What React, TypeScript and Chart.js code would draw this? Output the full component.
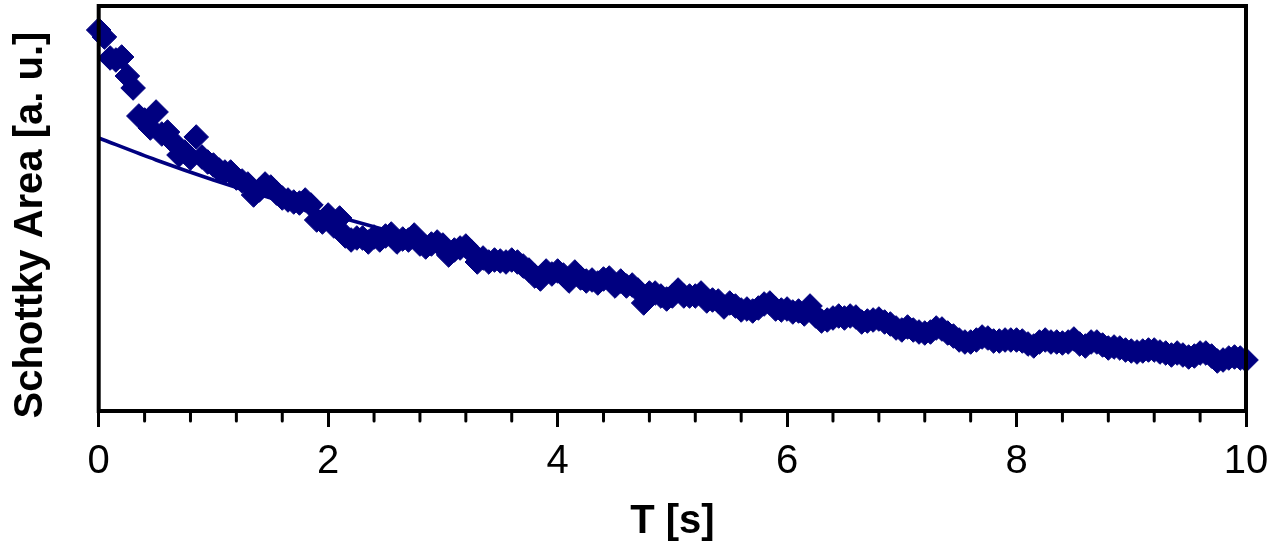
import React, { useEffect, useRef } from 'react';
import { Chart, registerables } from 'chart.js';

Chart.register(...registerables);

// Measurement times [s]
const TIME_S = [
  0, 0.05, 0.1, 0.15, 0.2, 0.25, 0.3, 0.35, 0.4, 0.45, 0.5, 0.55, 0.6, 0.65, 0.7, 0.75, 0.8, 0.85, 0.9, 0.95,
  1, 1.05, 1.1, 1.15, 1.2, 1.25, 1.3, 1.35, 1.4, 1.45, 1.5, 1.55, 1.6, 1.65, 1.7, 1.75, 1.8, 1.85, 1.9, 1.95,
  2, 2.05, 2.1, 2.15, 2.2, 2.25, 2.3, 2.35, 2.4, 2.45, 2.5, 2.55, 2.6, 2.65, 2.7, 2.75, 2.8, 2.85, 2.9, 2.95,
  3, 3.05, 3.1, 3.15, 3.2, 3.25, 3.3, 3.35, 3.4, 3.45, 3.5, 3.55, 3.6, 3.65, 3.7, 3.75, 3.8, 3.85, 3.9, 3.95,
  4, 4.05, 4.1, 4.15, 4.2, 4.25, 4.3, 4.35, 4.4, 4.45, 4.5, 4.55, 4.6, 4.65, 4.7, 4.75, 4.8, 4.85, 4.9, 4.95,
  5, 5.05, 5.1, 5.15, 5.2, 5.25, 5.3, 5.35, 5.4, 5.45, 5.5, 5.55, 5.6, 5.65, 5.7, 5.75, 5.8, 5.85, 5.9, 5.95,
  6, 6.05, 6.1, 6.15, 6.2, 6.25, 6.3, 6.35, 6.4, 6.45, 6.5, 6.55, 6.6, 6.65, 6.7, 6.75, 6.8, 6.85, 6.9, 6.95,
  7, 7.05, 7.1, 7.15, 7.2, 7.25, 7.3, 7.35, 7.4, 7.45, 7.5, 7.55, 7.6, 7.65, 7.7, 7.75, 7.8, 7.85, 7.9, 7.95,
  8, 8.05, 8.1, 8.15, 8.2, 8.25, 8.3, 8.35, 8.4, 8.45, 8.5, 8.55, 8.6, 8.65, 8.7, 8.75, 8.8, 8.85, 8.9, 8.95,
  9, 9.05, 9.1, 9.15, 9.2, 9.25, 9.3, 9.35, 9.4, 9.45, 9.5, 9.55, 9.6, 9.65, 9.7, 9.75, 9.8, 9.85, 9.9, 9.95,
  10,
];

// Measured Schottky area [a. u.]
const AREA = [
  3.81, 3.74, 3.53, 3.51, 3.54, 3.35, 3.23, 2.95, 2.91, 2.83, 2.99, 2.77, 2.79, 2.69, 2.56, 2.59, 2.53, 2.74, 2.54, 2.49,
  2.46, 2.41, 2.39, 2.39, 2.33, 2.30, 2.27, 2.16, 2.21, 2.27, 2.24, 2.18, 2.13, 2.11, 2.09, 2.08, 2.11, 2.06, 1.91, 1.89,
  1.96, 1.85, 1.93, 1.75, 1.71, 1.73, 1.73, 1.69, 1.74, 1.71, 1.75, 1.77, 1.69, 1.72, 1.71, 1.76, 1.67, 1.64, 1.67, 1.69,
  1.66, 1.56, 1.61, 1.63, 1.65, 1.59, 1.49, 1.53, 1.49, 1.51, 1.50, 1.49, 1.51, 1.49, 1.45, 1.41, 1.35, 1.32, 1.40, 1.37,
  1.40, 1.36, 1.30, 1.39, 1.33, 1.30, 1.31, 1.28, 1.32, 1.33, 1.25, 1.30, 1.25, 1.26, 1.21, 1.08, 1.18, 1.18, 1.15, 1.12,
  1.15, 1.21, 1.15, 1.15, 1.15, 1.18, 1.10, 1.11, 1.10, 1.04, 1.08, 1.05, 1.01, 1.02, 1.00, 1.03, 1.07, 1.08, 1.02, 1.01,
  1.02, 0.99, 1.00, 0.97, 1.05, 0.95, 0.90, 0.91, 0.93, 0.95, 0.93, 0.95, 0.94, 0.89, 0.90, 0.91, 0.92, 0.89, 0.87, 0.83,
  0.81, 0.84, 0.81, 0.79, 0.78, 0.79, 0.83, 0.82, 0.78, 0.75, 0.71, 0.69, 0.69, 0.71, 0.74, 0.73, 0.70, 0.70, 0.71, 0.71,
  0.71, 0.70, 0.67, 0.65, 0.69, 0.71, 0.69, 0.69, 0.68, 0.69, 0.72, 0.67, 0.65, 0.69, 0.69, 0.66, 0.63, 0.64, 0.63, 0.61,
  0.60, 0.59, 0.60, 0.61, 0.61, 0.59, 0.58, 0.56, 0.58, 0.56, 0.54, 0.55, 0.58, 0.58, 0.55, 0.50, 0.51, 0.53, 0.54, 0.53,
  0.51,
];

// Fit curve
const FIT_T = [0, 0.5, 1, 1.5, 2, 2.5, 3, 3.5, 4, 4.5, 5, 5.5, 6, 6.5, 7, 7.5, 8, 8.5, 9, 9.5, 10, 10.08];
const FIT_AREA = [2.73, 2.51, 2.31, 2.13, 1.97, 1.81, 1.65, 1.51, 1.39, 1.27, 1.17, 1.08, 0.99, 0.91, 0.83, 0.77, 0.70, 0.65, 0.59, 0.55, 0.50, 0.50];

const MAJOR_TICKS = [0, 2, 4, 6, 8, 10];
const MINOR_TICKS = [0.4, 0.8, 1.2, 1.6, 2.4, 2.8, 3.2, 3.6, 4.4, 4.8, 5.2, 5.6, 6.4, 6.8, 7.2, 7.6, 8.4, 8.8, 9.2, 9.6];

const X_TITLE = 'T [s]';
const Y_TITLE = 'Schottky Area [a. u.]';

const NAVY = '#000080';
const FONT = '"Liberation Sans", Arial, Helvetica, sans-serif';

const frameAndMinorTicks = {
  id: 'frameAndMinorTicks',
  afterDatasetsDraw(chart: any) {
    const { ctx, chartArea: a, scales } = chart;
    const xs = scales.x;
    ctx.save();
    ctx.strokeStyle = '#000';
    ctx.lineWidth = 3;
    ctx.lineCap = 'round';
    for (const v of MINOR_TICKS) {
      const px = xs.getPixelForValue(v);
      ctx.beginPath();
      ctx.moveTo(px, a.bottom);
      ctx.lineTo(px, a.bottom + 10);
      ctx.stroke();
    }
    ctx.lineCap = 'butt';
    ctx.lineWidth = 4;
    ctx.strokeRect(a.left, a.top, a.right - a.left, a.bottom - a.top);

    // y-axis title, rotated
    ctx.translate(31, 225);
    ctx.rotate(-Math.PI / 2);
    ctx.fillStyle = '#000';
    ctx.font = `bold 40px ${FONT}`;
    ctx.textAlign = 'center';
    ctx.textBaseline = 'middle';
    ctx.fillText(Y_TITLE, 0, 0);
    ctx.restore();
  },
};

export default function App() {
  const canvasRef = useRef<HTMLCanvasElement | null>(null);

  useEffect(() => {
    const canvas = canvasRef.current;
    if (!canvas) return;
    const chart = new Chart(canvas, {
      type: 'scatter',
      data: {
        datasets: [
          {
            type: 'line',
            label: 'fit',
            data: FIT_T.map((t, i) => ({ x: t, y: FIT_AREA[i] })),
            borderColor: NAVY,
            borderWidth: 3.5,
            pointRadius: 0,
            fill: false,
            tension: 0.3,
            showLine: true,
            clip: false,
            order: 1,
          } as any,
          {
            label: 'data',
            data: TIME_S.map((t, i) => ({ x: t, y: AREA[i] })),
            pointStyle: 'rectRot',
            pointRadius: 12.3,
            pointBackgroundColor: NAVY,
            pointBorderColor: NAVY,
            pointBorderWidth: 1,
            showLine: false,
            clip: false,
            order: 2,
          } as any,
        ],
      },
      options: {
        responsive: false,
        animation: false,
        events: [],
        layout: { autoPadding: false, padding: { top: 6, right: 39, left: 0, bottom: 0 } },
        plugins: {
          legend: { display: false },
          tooltip: { enabled: false },
        },
        scales: {
          x: {
            type: 'linear',
            position: 'bottom',
            min: 0,
            max: 10,
            afterBuildTicks: (s: any) => {
              s.ticks = MAJOR_TICKS.map((v) => ({ value: v }));
            },
            ticks: {
              autoSkip: false,
              maxRotation: 0,
              padding: 11,
              color: '#000',
              font: { family: FONT, size: 40 },
            },
            grid: {
              display: true,
              drawOnChartArea: false,
              drawTicks: true,
              tickLength: 16,
              tickWidth: 3,
              tickColor: '#000',
            },
            border: { display: false },
            title: {
              display: true,
              text: X_TITLE,
              color: '#000',
              padding: 0,
              font: { family: FONT, size: 40, weight: 'bold', lineHeight: 1 },
            },
            afterFit: (s: any) => {
              s.height = 131;
            },
          },
          y: {
            type: 'linear',
            min: 0,
            max: 4.05,
            ticks: { display: false },
            grid: { display: false },
            border: { display: false },
            title: { display: false },
            afterFit: (s: any) => {
              s.width = 98.7;
            },
          },
        },
      } as any,
      plugins: [frameAndMinorTicks],
    });
    return () => chart.destroy();
  }, []);

  return (
    <div style={{ position: 'fixed', left: 0, top: 0, width: 1285, height: 542, background: '#fff' }}>
      <canvas ref={canvasRef} width={1285} height={542} style={{ display: 'block' }} />
    </div>
  );
}
